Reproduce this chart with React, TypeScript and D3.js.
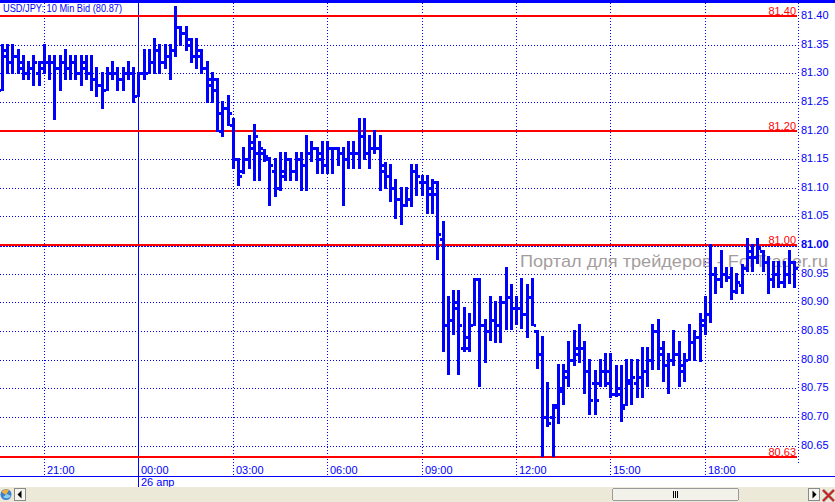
import React from "react";
import * as d3 from "d3";

const W = 835;
const H = 502;
const startTime = new Date(2011, 3, 25, 19, 40);
const barStepMs = 10 * 60 * 1000;

const opens = [
  81.27, 81.34, 81.32, 81.33, 81.31, 81.30, 81.31, 81.30, 81.32, 81.32,
  81.32, 81.31, 81.32, 81.31, 81.32, 81.30, 81.31, 81.30, 81.29, 81.28,
  81.27, 81.30, 81.30, 81.29, 81.30, 81.30, 81.26, 81.30, 81.30, 81.32,
  81.34, 81.32, 81.33, 81.34, 81.38, 81.37, 81.35, 81.33, 81.33, 81.31,
  81.29, 81.27, 81.20, 81.24, 81.21, 81.15, 81.13, 81.15, 81.17, 81.16,
  81.16, 81.15, 81.13, 81.10, 81.13, 81.15, 81.13, 81.15, 81.14, 81.16,
  81.17, 81.15, 81.14, 81.17, 81.17, 81.16, 81.15, 81.16, 81.16, 81.19,
  81.16, 81.17, 81.17, 81.13, 81.12, 81.10, 81.08, 81.07, 81.08, 81.13,
  81.11, 81.11, 81.09, 81.11, 81.01, 80.86, 80.87, 80.89, 80.82, 80.84,
  80.86, 80.94, 80.86, 80.85, 80.87, 80.86, 80.90, 80.91, 80.89, 80.89,
  80.88, 80.91, 80.85, 80.81, 80.70, 80.70, 80.72, 80.75, 80.77, 80.80,
  80.81, 80.82, 80.78, 80.76, 80.76, 80.78, 80.78, 80.74, 80.74, 80.72,
  80.76, 80.76, 80.77, 80.78, 80.80, 80.85, 80.81, 80.79, 80.80, 80.81,
  80.78, 80.80, 80.83, 80.84, 80.86, 80.88, 80.95, 80.94, 80.95, 80.945,
  80.92, 80.93, 80.96, 80.98, 80.98, 80.99, 80.97, 80.94, 80.95, 80.935,
  80.95, 80.97,
];
const highs = [
  81.35, 81.35, 81.35, 81.34, 81.33, 81.32, 81.33, 81.32, 81.35, 81.33,
  81.33, 81.33, 81.34, 81.33, 81.33, 81.33, 81.33, 81.33, 81.31, 81.30,
  81.31, 81.32, 81.31, 81.31, 81.32, 81.31, 81.30, 81.34, 81.34, 81.36,
  81.35, 81.35, 81.35, 81.415, 81.38, 81.38, 81.36, 81.36, 81.34, 81.32,
  81.30, 81.29, 81.25, 81.26, 81.22, 81.15, 81.17, 81.19, 81.21, 81.18,
  81.166, 81.152, 81.15, 81.16, 81.16, 81.15, 81.16, 81.16, 81.19, 81.18,
  81.17, 81.18, 81.18, 81.17, 81.17, 81.17, 81.18, 81.18, 81.22, 81.22,
  81.19, 81.20, 81.19, 81.143, 81.14, 81.114, 81.10, 81.10, 81.14, 81.14,
  81.12, 81.12, 81.114, 81.111, 81.04, 80.91, 80.92, 80.92, 80.89, 80.88,
  80.94, 80.94, 80.87, 80.91, 80.90, 80.91, 80.96, 80.93, 80.91, 80.94,
  80.93, 80.94, 80.85, 80.84, 80.76, 80.72, 80.79, 80.79, 80.83, 80.85,
  80.86, 80.83, 80.80, 80.78, 80.80, 80.81, 80.81, 80.789, 80.789, 80.80,
  80.80, 80.80, 80.82, 80.82, 80.86, 80.87, 80.83, 80.81, 80.85, 80.83,
  80.81, 80.86, 80.85, 80.88, 80.91, 81.00, 80.96, 80.99, 80.96, 80.96,
  80.95, 80.966, 81.01, 81.00, 81.01, 80.99, 80.98, 80.97, 80.97, 80.97,
  80.99, 80.97,
];
const lows = [
  81.27, 81.30, 81.30, 81.30, 81.29, 81.29, 81.28, 81.28, 81.30, 81.29,
  81.22, 81.27, 81.29, 81.29, 81.29, 81.28, 81.29, 81.27, 81.26, 81.24,
  81.27, 81.29, 81.27, 81.27, 81.29, 81.25, 81.26, 81.29, 81.30, 81.30,
  81.30, 81.31, 81.29, 81.33, 81.35, 81.34, 81.32, 81.31, 81.30, 81.25,
  81.25, 81.20, 81.19, 81.21, 81.135, 81.105, 81.126, 81.135, 81.114, 81.114,
  81.146, 81.07, 81.085, 81.097, 81.114, 81.114, 81.114, 81.097, 81.097, 81.146,
  81.126, 81.126, 81.126, 81.126, 81.14, 81.07, 81.135, 81.135, 81.135, 81.15,
  81.135, 81.16, 81.097, 81.10, 81.077, 81.047, 81.036, 81.068, 81.068, 81.088,
  81.088, 81.056, 81.056, 80.975, 80.815, 80.775, 80.845, 80.775, 80.815, 80.815,
  80.86, 80.754, 80.795, 80.835, 80.83, 80.83, 80.853, 80.853, 80.862, 80.856,
  80.84, 80.86, 80.786, 80.632, 80.684, 80.632, 80.69, 80.722, 80.754, 80.79,
  80.795, 80.742, 80.705, 80.705, 80.754, 80.754, 80.734, 80.737, 80.693, 80.72,
  80.722, 80.734, 80.734, 80.754, 80.783, 80.783, 80.763, 80.742, 80.79, 80.754,
  80.763, 80.80, 80.80, 80.797, 80.844, 80.865, 80.917, 80.926, 80.937, 80.905,
  80.917, 80.917, 80.955, 80.955, 80.969, 80.955, 80.917, 80.926, 80.926, 80.926,
  80.934, 80.926,
];
const closes = [
  81.33, 81.32, 81.33, 81.32, 81.30, 81.31, 81.32, 81.31, 81.32, 81.32,
  81.31, 81.32, 81.31, 81.32, 81.30, 81.32, 81.30, 81.29, 81.28, 81.27,
  81.30, 81.30, 81.29, 81.30, 81.30, 81.26, 81.30, 81.30, 81.32, 81.34,
  81.32, 81.33, 81.34, 81.38, 81.37, 81.36, 81.33, 81.34, 81.31, 81.28,
  81.29, 81.23, 81.24, 81.23, 81.15, 81.12, 81.15, 81.18, 81.19, 81.17,
  81.155, 81.14, 81.10, 81.12, 81.15, 81.13, 81.15, 81.14, 81.16, 81.17,
  81.16, 81.14, 81.17, 81.17, 81.16, 81.15, 81.16, 81.16, 81.19, 81.16,
  81.17, 81.17, 81.14, 81.12, 81.10, 81.08, 81.07, 81.08, 81.13, 81.12,
  81.11, 81.10, 81.09, 81.02, 80.86, 80.87, 80.90, 80.86, 80.82, 80.86,
  80.94, 80.86, 80.85, 80.87, 80.86, 80.90, 80.91, 80.89, 80.89, 80.88,
  80.91, 80.86, 80.81, 80.70, 80.69, 80.717, 80.745, 80.78, 80.80, 80.82,
  80.82, 80.78, 80.73, 80.73, 80.78, 80.76, 80.74, 80.75, 80.715, 80.765,
  80.77, 80.77, 80.78, 80.80, 80.85, 80.82, 80.79, 80.80, 80.81, 80.79,
  80.80, 80.83, 80.84, 80.87, 80.88, 80.95, 80.94, 80.95, 80.945, 80.92,
  80.935, 80.96, 80.99, 80.98, 80.995, 80.97, 80.94, 80.95, 80.935, 80.95,
  80.97, 80.96,
];

const yTicks = [81.4, 81.35, 81.3, 81.25, 81.2, 81.15, 81.1, 81.05, 81.0, 80.95, 80.9, 80.85, 80.8, 80.75, 80.7, 80.65];
const boldTick = 81.0;
const levels = [81.4, 81.2, 81.0, 80.63];
const title = "USD/JPY: 10 Min Bid (80.87)";
const dateLabel = "26 апр";
const watermark = "Портал для трейдеров - ForTrader.ru";

const BLUE = "#0000ff";
const RED = "#ff0000";
const FONT = "'Liberation Sans', Arial, sans-serif";

export default function App() {
  const n = opens.length;
  const times = opens.map((_, i) => new Date(startTime.getTime() + i * barStepMs));
  const x = d3.scaleTime().domain([times[0], times[n - 1]]).range([2, 2 + (n - 1) * 5.245]);
  const y = d3.scaleLinear().domain([80.63, 81.4]).range([457, 16]);
  const hourTicks = d3.timeHour.every(3)!.range(times[0], times[n - 1]);
  const fmt = d3.timeFormat("%H:%M");
  const plotRight = 798;
  const axisY = 476;

  return (
    <svg width={W} height={H} style={{ position: "absolute", left: 0, top: 0, display: "block", background: "#fff" }} shapeRendering="crispEdges">
      <rect x={0} y={0} width={W} height={H} fill="#fff" />
      {/* horizontal grid */}
      {yTicks.map((v) => {
        const yy = Math.round(y(v)) + 0.5;
        return (
          <line key={"g" + v} x1={0} x2={plotRight} y1={v === boldTick ? yy + 1 : yy} y2={v === boldTick ? yy + 1 : yy}
            stroke={BLUE} strokeWidth={1} strokeDasharray={v === boldTick ? "2,1" : "1,2"} />
        );
      })}
      {/* vertical grid */}
      {hourTicks.map((t) => {
        const xx = Math.round(x(t)) + 0.5;
        const isDay = t.getHours() === 0;
        return (
          <line key={"v" + t.getTime()} x1={xx} x2={xx} y1={0} y2={isDay ? 487 : axisY}
            stroke={BLUE} strokeWidth={1} strokeDasharray={isDay ? undefined : "1,2"} />
        );
      })}
      <line x1={plotRight + 0.5} x2={plotRight + 0.5} y1={0} y2={463} stroke={BLUE} strokeDasharray="1,2" />
      {/* watermark */}
      <text x={520} y={267} fontFamily={FONT} fontSize={17} fill="#a59d9d" textLength={308} lengthAdjust="spacingAndGlyphs" shapeRendering="auto">
        {watermark}
      </text>
      {/* red levels */}
      {levels.map((v) => {
        const yy = Math.round(y(v));
        return (
          <g key={"l" + v}>
            <rect x={0} y={yy - 1} width={plotRight - 1} height={2} fill={RED} />
            <text x={796} y={yy - 1} textAnchor="end" fontFamily={FONT} fontSize={11} fill={RED} shapeRendering="auto">
              {v.toFixed(2)}
            </text>
          </g>
        );
      })}
      {/* OHLC bars */}
      {times.map((t, i) => {
        const cx = Math.round(x(t));
        const yh = Math.round(y(highs[i]));
        const yl = Math.round(y(lows[i]));
        const yo = Math.round(y(opens[i]));
        const yc = Math.round(y(closes[i]));
        return (
          <g key={"b" + i} fill={BLUE}>
            <rect x={cx - 1} y={yh - 1} width={3} height={Math.max(3, yl - yh + 2)} />
            <rect x={cx - 3} y={yo - 1} width={2} height={3} />
            <rect x={cx + 2} y={yc - 1} width={2} height={3} />
          </g>
        );
      })}
      {/* top border */}
      <rect x={0} y={0} width={W} height={3} fill={BLUE} />
      {/* title */}
      <text x={3} y={12} fontFamily={FONT} fontSize={11} fill={BLUE} textLength={119} lengthAdjust="spacingAndGlyphs" shapeRendering="auto">
        {title}
      </text>
      {/* y axis labels */}
      {yTicks.map((v) => (
        <text key={"yl" + v} x={801} y={Math.round(y(v)) + 3} fontFamily={FONT} fontSize={11} fill={BLUE}
          fontWeight={v === boldTick ? "bold" : "normal"} shapeRendering="auto">
          {v.toFixed(2)}
        </text>
      ))}
      {/* x axis labels */}
      {hourTicks.map((t) => (
        <text key={"xl" + t.getTime()} x={Math.round(x(t)) + 3} y={474} fontFamily={FONT} fontSize={11} fill={BLUE} shapeRendering="auto">
          {fmt(t)}
        </text>
      ))}
      {hourTicks.filter((t) => t.getHours() === 0).map((t) => (
        <text key={"dl" + t.getTime()} x={Math.round(x(t)) + 3} y={486} fontFamily={FONT} fontSize={11} fill={BLUE} shapeRendering="auto">
          {dateLabel}
        </text>
      ))}
      <line x1={0} x2={W} y1={axisY + 0.5} y2={axisY + 0.5} stroke={BLUE} />
      {/* bottom scroll bar */}
      <rect x={0} y={487} width={W} height={15} fill="#ece9d8" />
      <g shapeRendering="auto">
        <circle cx={6} cy={494.5} r={5.5} fill="#3b7fd1" />
        <path d="M1.5,492 A5.5,5.5 0 0,1 9,490 L6,495 Z" fill="#f2b03a" />
        <path d="M3,497 A5.5,5.5 0 0,0 11,496 L7,494 Z" fill="#8fd0f0" />
      </g>
      <rect x={14.5} y={488.5} width={11} height={12} fill="#f6f5f0" stroke="#8a8a8a" />
      <path d="M17.5,494.5 L21.5,490.5 L21.5,498.5 Z" fill="#000" shapeRendering="auto" />
      <rect x={612.5} y={488.5} width={126} height={12} rx={2} fill="#f2f1ea" stroke="#9a9a9a" />
      {[673, 675, 677].map((gx) => (
        <rect key={"gr" + gx} x={gx} y={491} width={1} height={7} fill="#000" />
      ))}
      <rect x={808.5} y={488.5} width={11} height={12} fill="#f6f5f0" stroke="#8a8a8a" />
      <path d="M812.5,490.5 L816.5,494.5 L812.5,498.5 Z" fill="#000" shapeRendering="auto" />
      <g shapeRendering="auto">
        <path d="M823,490 L834,501 M834,490 L823,501" stroke="#8a8a8a" strokeWidth={3} />
        <path d="M823,490 L834,501 M834,490 L823,501" stroke="#e01010" strokeWidth={1.5} />
      </g>
    </svg>
  );
}
